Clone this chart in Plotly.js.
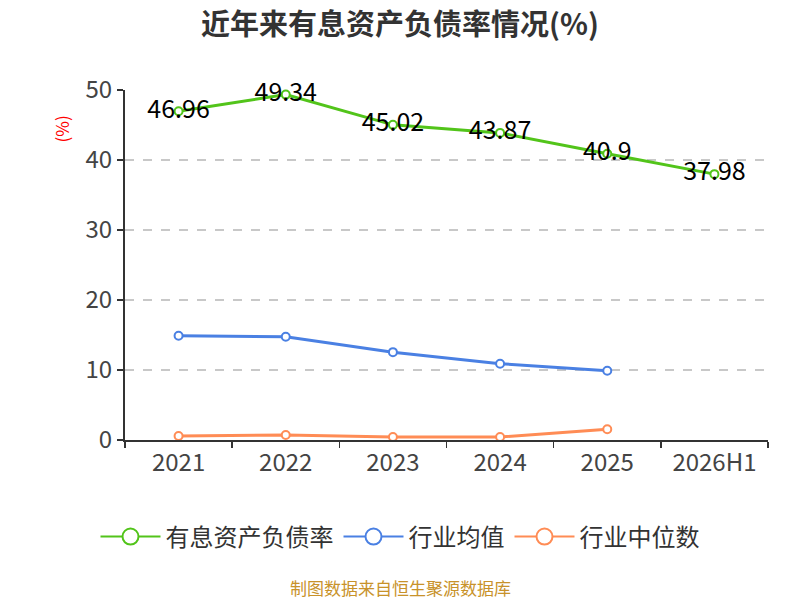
<!DOCTYPE html>
<html>
<head>
<meta charset="utf-8">
<script src="https://cdn.plot.ly/plotly-3.0.1.min.js"></script>
<style>
  body { margin: 0; background: #fff; }
  #chart { width: 800px; height: 600px; }
</style>
</head>
<body>
<div id="chart"></div>
<script>
// 数据
var years = ['2021', '2022', '2023', '2024', '2025', '2026H1'];
var ratio = [46.96, 49.34, 45.02, 43.87, 40.9, 37.98];
var industryAvg = [14.9, 14.75, 12.55, 10.9, 9.9];
var industryMedian = [0.57, 0.71, 0.43, 0.43, 1.53];

var names = ['有息资产负债率', '行业均值', '行业中位数'];
var colors = ['#52c41a', '#4a80e3', '#ff8c55'];

var font = '"Noto Sans CJK SC", "Noto Sans", sans-serif';

function series(i, y, withText) {
  var t = {
    x: years.slice(0, y.length),
    y: y,
    name: names[i],
    type: 'scatter',
    mode: withText ? 'lines+markers+text' : 'lines+markers',
    line: { color: colors[i], width: 3 },
    marker: { size: 8, color: '#fff', line: { color: colors[i], width: 2 } },
    cliponaxis: false,
    showlegend: false,
    hoverinfo: 'x+y'
  };
  if (withText) {
    t.text = y.map(String);
    t.textposition = 'middle center';
    t.textfont = { family: font, size: 25, color: '#000' };
  }
  return t;
}

// 图例用的空系列（图例里的圆圈更大）
function legendItem(i) {
  return {
    x: [null], y: [null],
    name: names[i],
    type: 'scatter',
    mode: 'lines+markers',
    line: { color: colors[i], width: 2 },
    marker: { size: 16, color: '#fff', line: { color: colors[i], width: 2 } },
    showlegend: true,
    hoverinfo: 'skip'
  };
}

var data = [
  series(0, ratio, true),
  series(1, industryAvg, false),
  series(2, industryMedian, false),
  legendItem(0), legendItem(1), legendItem(2)
];

var layout = {
  width: 800,
  height: 600,
  margin: { l: 125, r: 32, t: 90, b: 160 },
  paper_bgcolor: '#fff',
  plot_bgcolor: '#fff',
  font: { family: font, color: '#333' },
  title: {
    text: '<b>近年来有息资产负债率情况(%)</b>',
    x: 0.5, xanchor: 'center', y: 0.958, yanchor: 'middle',
    font: { family: font, size: 29, color: '#333' }
  },
  xaxis: {
    type: 'category',
    tickson: 'boundaries',
    ticks: 'outside',
    ticklen: 6,
    tickcolor: '#333',
    tickwidth: 1.5,
    showline: true,
    linecolor: '#333',
    linewidth: 2,
    showgrid: false,
    tickfont: { family: font, size: 24, color: '#444' },
    range: [-0.5, 5.5],
    fixedrange: true
  },
  yaxis: {
    range: [0, 50],
    dtick: 10,
    ticks: 'outside',
    ticklen: 6,
    tickcolor: '#333',
    tickwidth: 1.5,
    showline: true,
    linecolor: '#333',
    linewidth: 2,
    showgrid: true,
    gridcolor: '#c8c8c8',
    griddash: 'dash',
    gridwidth: 1.2,
    zeroline: false,
    tickfont: { family: font, size: 24, color: '#444' },
    fixedrange: true
  },
  showlegend: true,
  legend: {
    orientation: 'h',
    x: 0.5 - (125 - 32) / 2 / 643, xanchor: 'center',
    y: -0.277, yanchor: 'middle',
    font: { family: font, size: 24, color: '#333' },
    itemwidth: 60
  },
  annotations: [
    {
      text: '(%)', xref: 'paper', yref: 'paper',
      x: -0.098, y: 0.89, xanchor: 'center', yanchor: 'middle',
      textangle: -90, showarrow: false,
      font: { family: font, size: 17, color: '#ff0000' }
    },
    {
      text: '制图数据来自恒生聚源数据库', xref: 'paper', yref: 'paper',
      x: 0.5 - (125 - 32) / 2 / 643, y: -0.42, xanchor: 'center', yanchor: 'middle',
      showarrow: false,
      font: { family: font, size: 17, color: '#c8922a' }
    }
  ]
};

Plotly.newPlot('chart', data, layout, { displayModeBar: false, staticPlot: true });
</script>
</body>
</html>
